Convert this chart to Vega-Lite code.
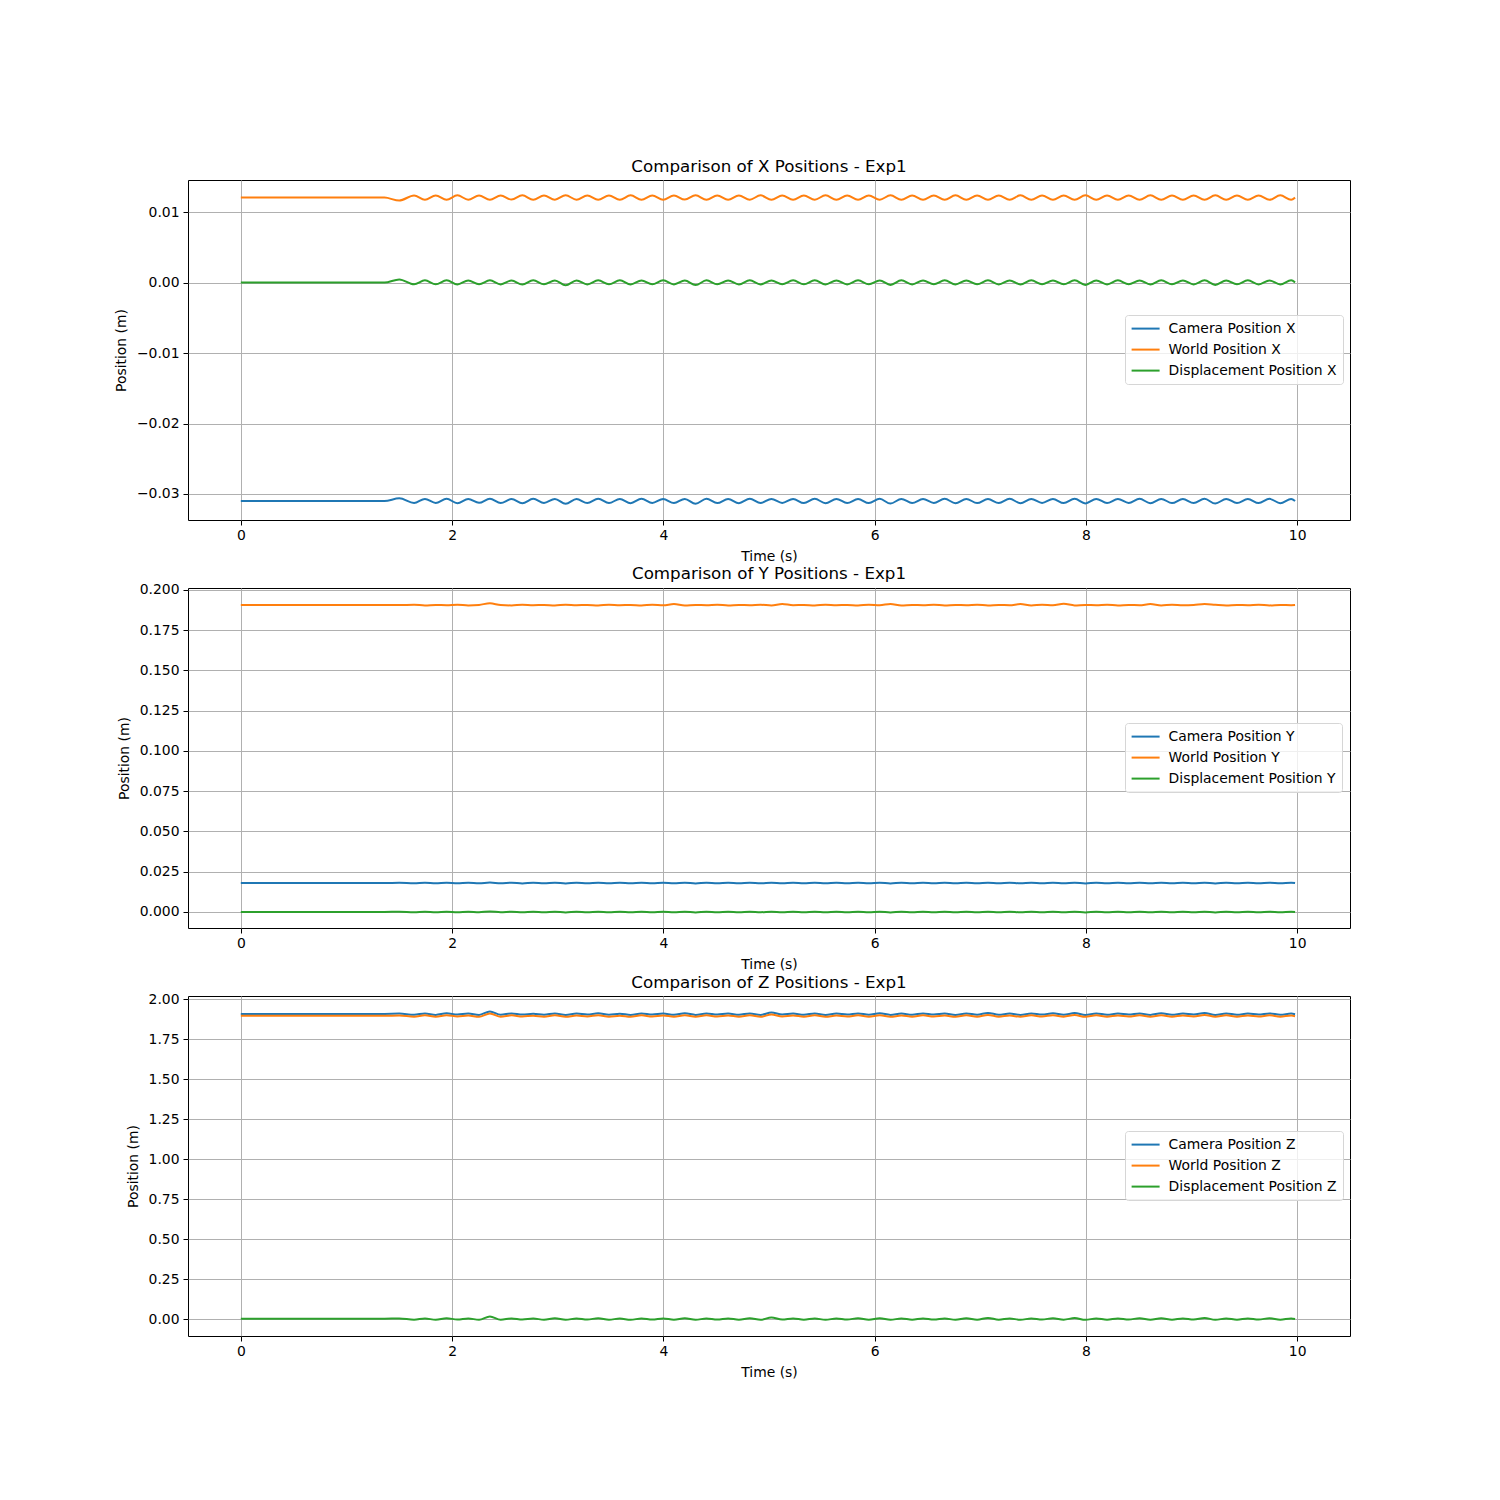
{
"$schema": "https://vega.github.io/schema/vega-lite/v6.json",
"background": "white",
"autosize": {"type": "pad"},
"padding": {"left": 113, "top": 158, "right": 10, "bottom": 10},
"datasets": {"d": [
{"t":0.0,"cx":-0.0310,"wx":0.01205,"dx":0.0,"cy":0.0180,"wy":0.1906,"dy":0.0,"cz":1.907,"wz":1.895,"dz":0.002},
{"t":0.25,"cx":-0.0310,"wx":0.01205,"dx":0.0,"cy":0.0180,"wy":0.1906,"dy":0.0,"cz":1.907,"wz":1.895,"dz":0.002},
{"t":0.5,"cx":-0.0310,"wx":0.01205,"dx":0.0,"cy":0.0180,"wy":0.1907,"dy":0.0,"cz":1.907,"wz":1.895,"dz":0.002},
{"t":0.75,"cx":-0.0310,"wx":0.01205,"dx":0.0,"cy":0.0180,"wy":0.1906,"dy":0.0,"cz":1.907,"wz":1.895,"dz":0.002},
{"t":1.0,"cx":-0.0310,"wx":0.01205,"dx":0.0,"cy":0.0180,"wy":0.1906,"dy":0.0,"cz":1.907,"wz":1.895,"dz":0.002},
{"t":1.25,"cx":-0.0310,"wx":0.01205,"dx":0.0,"cy":0.0180,"wy":0.1906,"dy":0.0,"cz":1.907,"wz":1.895,"dz":0.002},
{"t":1.36,"cx":-0.0310,"wx":0.01205,"dx":0.0,"cy":0.0180,"wy":0.1906,"dy":0.0,"cz":1.907,"wz":1.895,"dz":0.002},
{"t":1.5,"cx":-0.03062,"wx":0.01163,"dx":0.00045,"cy":0.0181,"wy":0.1906,"dy":0.0001,"cz":1.909,"wz":1.897,"dz":0.004},
{"t":1.64,"cx":-0.03128,"wx":0.01236,"dx":-0.00024,"cy":0.0178,"wy":0.1908,"dy":-0.0002,"cz":1.902,"wz":1.890,"dz":-0.004},
{"t":1.743,"cx":-0.0307,"wx":0.01176,"dx":0.00031,"cy":0.0182,"wy":0.1904,"dy":0.0002,"cz":1.910,"wz":1.898,"dz":0.004},
{"t":1.845,"cx":-0.03127,"wx":0.01235,"dx":-0.00025,"cy":0.0178,"wy":0.1907,"dy":-0.0002,"cz":1.901,"wz":1.889,"dz":-0.005},
{"t":1.948,"cx":-0.03069,"wx":0.01174,"dx":0.00032,"cy":0.0182,"wy":0.1905,"dy":0.0002,"cz":1.911,"wz":1.899,"dz":0.005},
{"t":2.05,"cx":-0.0313,"wx":0.01237,"dx":-0.00027,"cy":0.0178,"wy":0.1908,"dy":-0.0002,"cz":1.903,"wz":1.891,"dz":-0.003},
{"t":2.153,"cx":-0.03071,"wx":0.01176,"dx":0.0003,"cy":0.0182,"wy":0.1904,"dy":0.0002,"cz":1.909,"wz":1.897,"dz":0.004},
{"t":2.255,"cx":-0.03126,"wx":0.01234,"dx":-0.00023,"cy":0.0178,"wy":0.1907,"dy":-0.0002,"cz":1.901,"wz":1.889,"dz":-0.005},
{"t":2.358,"cx":-0.03068,"wx":0.01175,"dx":0.00031,"cy":0.0183,"wy":0.1917,"dy":0.0003,"cz":1.922,"wz":1.910,"dz":0.016},
{"t":2.46,"cx":-0.03129,"wx":0.01236,"dx":-0.00026,"cy":0.0178,"wy":0.1906,"dy":-0.0002,"cz":1.902,"wz":1.890,"dz":-0.004},
{"t":2.563,"cx":-0.03072,"wx":0.01177,"dx":0.00029,"cy":0.0182,"wy":0.1904,"dy":0.0002,"cz":1.910,"wz":1.898,"dz":0.004},
{"t":2.665,"cx":-0.03131,"wx":0.01237,"dx":-0.00028,"cy":0.0177,"wy":0.1908,"dy":-0.0002,"cz":1.903,"wz":1.891,"dz":-0.003},
{"t":2.768,"cx":-0.03069,"wx":0.01174,"dx":0.00031,"cy":0.0182,"wy":0.1905,"dy":0.0002,"cz":1.908,"wz":1.896,"dz":0.003},
{"t":2.87,"cx":-0.03127,"wx":0.01235,"dx":-0.00025,"cy":0.0178,"wy":0.1907,"dy":-0.0002,"cz":1.902,"wz":1.890,"dz":-0.004},
{"t":2.973,"cx":-0.0307,"wx":0.01176,"dx":0.0003,"cy":0.0182,"wy":0.1904,"dy":0.0002,"cz":1.910,"wz":1.898,"dz":0.005},
{"t":3.075,"cx":-0.0314,"wx":0.01238,"dx":-0.00038,"cy":0.0177,"wy":0.1908,"dy":-0.0003,"cz":1.901,"wz":1.889,"dz":-0.005},
{"t":3.178,"cx":-0.03071,"wx":0.01175,"dx":0.0003,"cy":0.0182,"wy":0.1905,"dy":0.0002,"cz":1.909,"wz":1.897,"dz":0.004},
{"t":3.28,"cx":-0.03128,"wx":0.01236,"dx":-0.00026,"cy":0.0178,"wy":0.1907,"dy":-0.0002,"cz":1.903,"wz":1.891,"dz":-0.003},
{"t":3.383,"cx":-0.03069,"wx":0.01176,"dx":0.00031,"cy":0.0182,"wy":0.1904,"dy":0.0002,"cz":1.911,"wz":1.899,"dz":0.005},
{"t":3.485,"cx":-0.03129,"wx":0.01235,"dx":-0.00024,"cy":0.0178,"wy":0.1908,"dy":-0.0002,"cz":1.902,"wz":1.890,"dz":-0.004},
{"t":3.588,"cx":-0.0307,"wx":0.01174,"dx":0.00032,"cy":0.0182,"wy":0.1905,"dy":0.0002,"cz":1.908,"wz":1.896,"dz":0.003},
{"t":3.69,"cx":-0.0313,"wx":0.01237,"dx":-0.00027,"cy":0.0178,"wy":0.1907,"dy":-0.0002,"cz":1.901,"wz":1.889,"dz":-0.005},
{"t":3.793,"cx":-0.03068,"wx":0.01175,"dx":0.0003,"cy":0.0182,"wy":0.1904,"dy":0.0002,"cz":1.910,"wz":1.898,"dz":0.004},
{"t":3.895,"cx":-0.03127,"wx":0.01236,"dx":-0.00025,"cy":0.0178,"wy":0.1908,"dy":-0.0002,"cz":1.903,"wz":1.891,"dz":-0.003},
{"t":3.998,"cx":-0.03071,"wx":0.01176,"dx":0.00031,"cy":0.0182,"wy":0.1905,"dy":0.0002,"cz":1.909,"wz":1.897,"dz":0.004},
{"t":4.1,"cx":-0.03128,"wx":0.01235,"dx":-0.00026,"cy":0.0178,"wy":0.1912,"dy":-0.0002,"cz":1.902,"wz":1.890,"dz":-0.004},
{"t":4.203,"cx":-0.0307,"wx":0.01177,"dx":0.00029,"cy":0.0182,"wy":0.1904,"dy":0.0002,"cz":1.911,"wz":1.899,"dz":0.005},
{"t":4.305,"cx":-0.03138,"wx":0.01237,"dx":-0.00036,"cy":0.0177,"wy":0.1907,"dy":-0.0003,"cz":1.901,"wz":1.889,"dz":-0.005},
{"t":4.408,"cx":-0.03069,"wx":0.01174,"dx":0.00031,"cy":0.0182,"wy":0.1905,"dy":0.0002,"cz":1.910,"wz":1.898,"dz":0.004},
{"t":4.51,"cx":-0.03129,"wx":0.01236,"dx":-0.00025,"cy":0.0178,"wy":0.1908,"dy":-0.0002,"cz":1.903,"wz":1.891,"dz":-0.003},
{"t":4.613,"cx":-0.03071,"wx":0.01175,"dx":0.0003,"cy":0.0182,"wy":0.1904,"dy":0.0002,"cz":1.909,"wz":1.897,"dz":0.004},
{"t":4.715,"cx":-0.0313,"wx":0.01235,"dx":-0.00027,"cy":0.0178,"wy":0.1907,"dy":-0.0002,"cz":1.902,"wz":1.890,"dz":-0.004},
{"t":4.818,"cx":-0.03068,"wx":0.01176,"dx":0.00031,"cy":0.0182,"wy":0.1905,"dy":0.0002,"cz":1.910,"wz":1.898,"dz":0.005},
{"t":4.92,"cx":-0.03128,"wx":0.01237,"dx":-0.00026,"cy":0.0178,"wy":0.1908,"dy":-0.0002,"cz":1.901,"wz":1.889,"dz":-0.005},
{"t":5.023,"cx":-0.0307,"wx":0.01174,"dx":0.0003,"cy":0.0182,"wy":0.1904,"dy":0.0002,"cz":1.916,"wz":1.904,"dz":0.010},
{"t":5.125,"cx":-0.03127,"wx":0.01236,"dx":-0.00024,"cy":0.0178,"wy":0.1913,"dy":-0.0002,"cz":1.903,"wz":1.891,"dz":-0.003},
{"t":5.228,"cx":-0.03071,"wx":0.01175,"dx":0.00031,"cy":0.0182,"wy":0.1905,"dy":0.0002,"cz":1.909,"wz":1.897,"dz":0.004},
{"t":5.33,"cx":-0.03129,"wx":0.01235,"dx":-0.00025,"cy":0.0178,"wy":0.1907,"dy":-0.0002,"cz":1.902,"wz":1.890,"dz":-0.004},
{"t":5.433,"cx":-0.03069,"wx":0.01176,"dx":0.00032,"cy":0.0182,"wy":0.1904,"dy":0.0002,"cz":1.910,"wz":1.898,"dz":0.004},
{"t":5.535,"cx":-0.0313,"wx":0.01237,"dx":-0.00027,"cy":0.0178,"wy":0.1908,"dy":-0.0002,"cz":1.901,"wz":1.889,"dz":-0.005},
{"t":5.638,"cx":-0.0307,"wx":0.01175,"dx":0.0003,"cy":0.0182,"wy":0.1905,"dy":0.0002,"cz":1.909,"wz":1.897,"dz":0.004},
{"t":5.74,"cx":-0.03128,"wx":0.01236,"dx":-0.00026,"cy":0.0178,"wy":0.1907,"dy":-0.0002,"cz":1.903,"wz":1.891,"dz":-0.003},
{"t":5.843,"cx":-0.03071,"wx":0.01174,"dx":0.00031,"cy":0.0182,"wy":0.1904,"dy":0.0002,"cz":1.910,"wz":1.898,"dz":0.005},
{"t":5.945,"cx":-0.03129,"wx":0.01235,"dx":-0.00025,"cy":0.0178,"wy":0.1908,"dy":-0.0002,"cz":1.902,"wz":1.890,"dz":-0.004},
{"t":6.048,"cx":-0.03069,"wx":0.01176,"dx":0.0003,"cy":0.0182,"wy":0.1905,"dy":0.0002,"cz":1.911,"wz":1.899,"dz":0.005},
{"t":6.15,"cx":-0.03136,"wx":0.01237,"dx":-0.00034,"cy":0.0177,"wy":0.1913,"dy":-0.0003,"cz":1.901,"wz":1.889,"dz":-0.005},
{"t":6.253,"cx":-0.0307,"wx":0.01175,"dx":0.00031,"cy":0.0182,"wy":0.1904,"dy":0.0002,"cz":1.909,"wz":1.897,"dz":0.004},
{"t":6.355,"cx":-0.03128,"wx":0.01236,"dx":-0.00026,"cy":0.0178,"wy":0.1907,"dy":-0.0002,"cz":1.902,"wz":1.890,"dz":-0.004},
{"t":6.458,"cx":-0.03071,"wx":0.01176,"dx":0.0003,"cy":0.0182,"wy":0.1905,"dy":0.0002,"cz":1.910,"wz":1.898,"dz":0.004},
{"t":6.56,"cx":-0.03127,"wx":0.01235,"dx":-0.00024,"cy":0.0178,"wy":0.1908,"dy":-0.0002,"cz":1.903,"wz":1.891,"dz":-0.003},
{"t":6.663,"cx":-0.03069,"wx":0.01174,"dx":0.00031,"cy":0.0182,"wy":0.1904,"dy":0.0002,"cz":1.909,"wz":1.897,"dz":0.004},
{"t":6.765,"cx":-0.0313,"wx":0.01237,"dx":-0.00027,"cy":0.0178,"wy":0.1907,"dy":-0.0002,"cz":1.901,"wz":1.889,"dz":-0.005},
{"t":6.868,"cx":-0.0307,"wx":0.01175,"dx":0.0003,"cy":0.0182,"wy":0.1905,"dy":0.0002,"cz":1.910,"wz":1.898,"dz":0.005},
{"t":6.97,"cx":-0.03129,"wx":0.01236,"dx":-0.00025,"cy":0.0178,"wy":0.1908,"dy":-0.0002,"cz":1.902,"wz":1.890,"dz":-0.004},
{"t":7.073,"cx":-0.03071,"wx":0.01176,"dx":0.00031,"cy":0.0182,"wy":0.1904,"dy":0.0002,"cz":1.913,"wz":1.901,"dz":0.007},
{"t":7.175,"cx":-0.03128,"wx":0.01235,"dx":-0.00026,"cy":0.0178,"wy":0.1907,"dy":-0.0002,"cz":1.902,"wz":1.890,"dz":-0.004},
{"t":7.278,"cx":-0.03069,"wx":0.01174,"dx":0.0003,"cy":0.0182,"wy":0.1905,"dy":0.0002,"cz":1.909,"wz":1.897,"dz":0.004},
{"t":7.38,"cx":-0.0313,"wx":0.01237,"dx":-0.00027,"cy":0.0178,"wy":0.1912,"dy":-0.0002,"cz":1.901,"wz":1.889,"dz":-0.005},
{"t":7.483,"cx":-0.0307,"wx":0.01175,"dx":0.00031,"cy":0.0182,"wy":0.1904,"dy":0.0002,"cz":1.910,"wz":1.898,"dz":0.004},
{"t":7.585,"cx":-0.03127,"wx":0.01236,"dx":-0.00024,"cy":0.0178,"wy":0.1908,"dy":-0.0002,"cz":1.903,"wz":1.891,"dz":-0.003},
{"t":7.688,"cx":-0.03071,"wx":0.01176,"dx":0.0003,"cy":0.0182,"wy":0.1905,"dy":0.0002,"cz":1.911,"wz":1.899,"dz":0.005},
{"t":7.79,"cx":-0.03129,"wx":0.01235,"dx":-0.00025,"cy":0.0178,"wy":0.1914,"dy":-0.0002,"cz":1.902,"wz":1.890,"dz":-0.004},
{"t":7.893,"cx":-0.03069,"wx":0.01174,"dx":0.00031,"cy":0.0182,"wy":0.1904,"dy":0.0002,"cz":1.912,"wz":1.900,"dz":0.006},
{"t":7.995,"cx":-0.03135,"wx":0.01237,"dx":-0.00033,"cy":0.0177,"wy":0.1907,"dy":-0.0003,"cz":1.901,"wz":1.889,"dz":-0.005},
{"t":8.098,"cx":-0.0307,"wx":0.01175,"dx":0.0003,"cy":0.0182,"wy":0.1905,"dy":0.0002,"cz":1.910,"wz":1.898,"dz":0.004},
{"t":8.2,"cx":-0.03128,"wx":0.01236,"dx":-0.00026,"cy":0.0178,"wy":0.1908,"dy":-0.0002,"cz":1.902,"wz":1.890,"dz":-0.004},
{"t":8.303,"cx":-0.03071,"wx":0.01176,"dx":0.00031,"cy":0.0182,"wy":0.1904,"dy":0.0002,"cz":1.909,"wz":1.897,"dz":0.004},
{"t":8.405,"cx":-0.03127,"wx":0.01235,"dx":-0.00024,"cy":0.0178,"wy":0.1907,"dy":-0.0002,"cz":1.903,"wz":1.891,"dz":-0.003},
{"t":8.508,"cx":-0.03069,"wx":0.01174,"dx":0.0003,"cy":0.0182,"wy":0.1905,"dy":0.0002,"cz":1.910,"wz":1.898,"dz":0.005},
{"t":8.61,"cx":-0.0313,"wx":0.01237,"dx":-0.00027,"cy":0.0178,"wy":0.1912,"dy":-0.0002,"cz":1.901,"wz":1.889,"dz":-0.005},
{"t":8.713,"cx":-0.0307,"wx":0.01175,"dx":0.00031,"cy":0.0182,"wy":0.1904,"dy":0.0002,"cz":1.911,"wz":1.899,"dz":0.005},
{"t":8.815,"cx":-0.03129,"wx":0.01236,"dx":-0.00025,"cy":0.0178,"wy":0.1908,"dy":-0.0002,"cz":1.902,"wz":1.890,"dz":-0.004},
{"t":8.918,"cx":-0.03071,"wx":0.01176,"dx":0.0003,"cy":0.0182,"wy":0.1905,"dy":0.0002,"cz":1.909,"wz":1.897,"dz":0.004},
{"t":9.02,"cx":-0.03128,"wx":0.01235,"dx":-0.00026,"cy":0.0178,"wy":0.1907,"dy":-0.0002,"cz":1.903,"wz":1.891,"dz":-0.003},
{"t":9.123,"cx":-0.03069,"wx":0.01174,"dx":0.00031,"cy":0.0182,"wy":0.1913,"dy":0.0002,"cz":1.913,"wz":1.901,"dz":0.007},
{"t":9.225,"cx":-0.03136,"wx":0.01237,"dx":-0.00034,"cy":0.0177,"wy":0.1908,"dy":-0.0003,"cz":1.901,"wz":1.889,"dz":-0.005},
{"t":9.328,"cx":-0.0307,"wx":0.01175,"dx":0.0003,"cy":0.0182,"wy":0.1904,"dy":0.0002,"cz":1.910,"wz":1.898,"dz":0.004},
{"t":9.43,"cx":-0.03128,"wx":0.01236,"dx":-0.00025,"cy":0.0178,"wy":0.1907,"dy":-0.0002,"cz":1.902,"wz":1.890,"dz":-0.004},
{"t":9.533,"cx":-0.03071,"wx":0.01176,"dx":0.00031,"cy":0.0182,"wy":0.1905,"dy":0.0002,"cz":1.909,"wz":1.897,"dz":0.004},
{"t":9.635,"cx":-0.03129,"wx":0.01235,"dx":-0.00026,"cy":0.0178,"wy":0.1908,"dy":-0.0002,"cz":1.903,"wz":1.891,"dz":-0.003},
{"t":9.738,"cx":-0.03069,"wx":0.01174,"dx":0.0003,"cy":0.0182,"wy":0.1904,"dy":0.0002,"cz":1.910,"wz":1.898,"dz":0.005},
{"t":9.84,"cx":-0.0313,"wx":0.01237,"dx":-0.00027,"cy":0.0178,"wy":0.1907,"dy":-0.0002,"cz":1.902,"wz":1.890,"dz":-0.004},
{"t":9.943,"cx":-0.0307,"wx":0.01175,"dx":0.00031,"cy":0.0182,"wy":0.1905,"dy":0.0002,"cz":1.909,"wz":1.897,"dz":0.004},
{"t":9.98,"cx":-0.0310,"wx":0.01205,"dx":0.00002,"cy":0.0180,"wy":0.1906,"dy":0.0,"cz":1.905,"wz":1.893,"dz":0.0}
]},
"data": {"name": "d"},
"spacing": 68,
"bounds": "flush",
"resolve": {"scale": {"color": "independent", "y": "independent"}, "legend": {"color": "independent"}},
"config": {
  "font": "DejaVu Sans",
  "view": {"stroke": "black", "strokeWidth": 1},
  "axis": {"domain": false, "grid": true, "gridColor": "#b0b0b0", "gridWidth": 1, "gridOpacity": 1, "tickColor": "black", "tickSize": 5, "tickWidth": 1, "labelFont": "DejaVu Sans", "labelFontSize": 13.9, "labelColor": "black", "labelPadding": 4, "labelFlush": false, "labelOverlap": false, "titleFont": "DejaVu Sans", "titleFontSize": 13.9, "titleFontWeight": "normal", "titleColor": "black"},
  "axisX": {"titlePadding": 8, "labelPadding": 3},
  "axisY": {"titlePadding": 8},
  "title": {"font": "DejaVu Sans", "fontSize": 16.7, "fontWeight": "normal", "color": "black", "frame": "group", "anchor": "middle", "baseline": "alphabetic"},
  "legend": {"orient": "none", "legendX": 937, "legendY": 135, "title": null, "labelFont": "DejaVu Sans", "labelFontSize": 13.9, "labelColor": "black", "labelLimit": 0, "symbolType": "M-1,0H3", "symbolSize": 196, "symbolStrokeWidth": 2, "labelOffset": 22, "padding": 5.6, "rowPadding": 6, "strokeColor": "#d6d6d6", "fillColor": "rgba(255,255,255,0.8)", "cornerRadius": 3}
},
"vconcat": [
{
  "width": 1162, "height": 340,
  "title": {"text": "Comparison of X Positions - Exp1", "offset": 4},
  "transform": [{"fold": ["cx", "wx", "dx"], "as": ["s", "v"]}],
  "mark": {"type": "line", "strokeWidth": 2, "interpolate": "monotone"},
  "encoding": {
    "x": {"field": "t", "type": "quantitative", "scale": {"domain": [-0.5, 10.5], "nice": false, "zero": false}, "axis": {"values": [0, 2, 4, 6, 8, 10], "format": "d", "title": "Time (s)"}},
    "y": {"field": "v", "type": "quantitative", "scale": {"domain": [-0.03369, 0.01455], "nice": false, "zero": false}, "axis": {"values": [-0.03, -0.02, -0.01, 0, 0.01], "format": ".2f", "title": "Position (m)"}},
    "color": {"field": "s", "type": "nominal", "scale": {"domain": ["cx", "wx", "dx"], "range": ["#1f77b4", "#ff7f0e", "#2ca02c"]}, "legend": {"labelExpr": "datum.label == 'cx' ? 'Camera Position X' : datum.label == 'wx' ? 'World Position X' : 'Displacement Position X'"}}
  }
},
{
  "width": 1162, "height": 340,
  "title": {"text": "Comparison of Y Positions - Exp1", "offset": 0},
  "transform": [{"fold": ["cy", "wy", "dy"], "as": ["s", "v"]}],
  "mark": {"type": "line", "strokeWidth": 2, "interpolate": "monotone"},
  "encoding": {
    "x": {"field": "t", "type": "quantitative", "scale": {"domain": [-0.5, 10.5], "nice": false, "zero": false}, "axis": {"values": [0, 2, 4, 6, 8, 10], "format": "d", "title": "Time (s)"}},
    "y": {"field": "v", "type": "quantitative", "scale": {"domain": [-0.00997, 0.2012], "nice": false, "zero": false}, "axis": {"values": [0, 0.025, 0.05, 0.075, 0.1, 0.125, 0.15, 0.175, 0.2], "format": ".3f", "title": "Position (m)"}},
    "color": {"field": "s", "type": "nominal", "scale": {"domain": ["cy", "wy", "dy"], "range": ["#1f77b4", "#ff7f0e", "#2ca02c"]}, "legend": {"labelExpr": "datum.label == 'cy' ? 'Camera Position Y' : datum.label == 'wy' ? 'World Position Y' : 'Displacement Position Y'"}}
  }
},
{
  "width": 1162, "height": 340,
  "title": {"text": "Comparison of Z Positions - Exp1", "offset": 0},
  "transform": [{"fold": ["cz", "wz", "dz"], "as": ["s", "v"]}],
  "mark": {"type": "line", "strokeWidth": 2, "interpolate": "monotone"},
  "encoding": {
    "x": {"field": "t", "type": "quantitative", "scale": {"domain": [-0.5, 10.5], "nice": false, "zero": false}, "axis": {"values": [0, 2, 4, 6, 8, 10], "format": "d", "title": "Time (s)"}},
    "y": {"field": "v", "type": "quantitative", "scale": {"domain": [-0.106, 2.019], "nice": false, "zero": false}, "axis": {"values": [0, 0.25, 0.5, 0.75, 1, 1.25, 1.5, 1.75, 2], "format": ".2f", "title": "Position (m)"}},
    "color": {"field": "s", "type": "nominal", "scale": {"domain": ["cz", "wz", "dz"], "range": ["#1f77b4", "#ff7f0e", "#2ca02c"]}, "legend": {"labelExpr": "datum.label == 'cz' ? 'Camera Position Z' : datum.label == 'wz' ? 'World Position Z' : 'Displacement Position Z'"}}
  }
}
]
}
